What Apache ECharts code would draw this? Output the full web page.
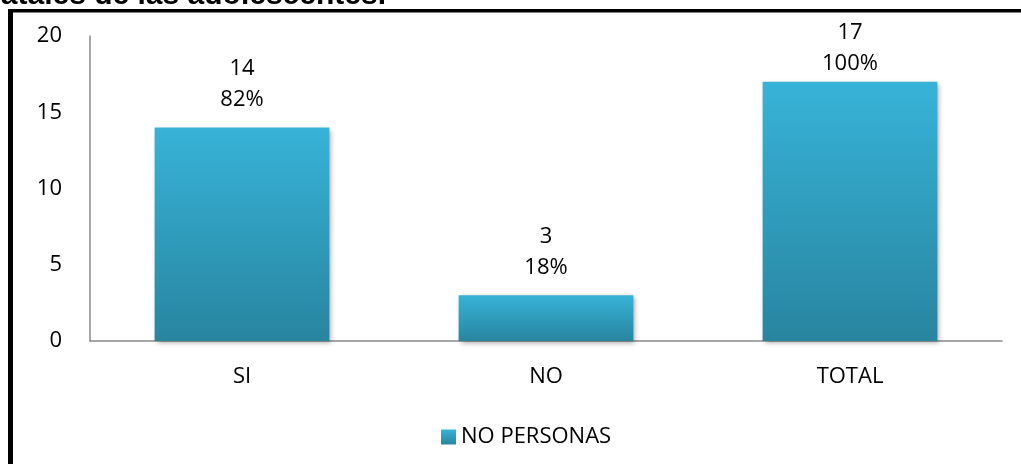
<!DOCTYPE html>
<html>
<head>
<meta charset="utf-8">
<script src="https://cdn.jsdelivr.net/npm/echarts@6/dist/echarts.min.js"></script>
<style>
  html, body { margin: 0; padding: 0; background: #ffffff; }
  #chart { width: 1021px; height: 464px; }
</style>
</head>
<body>
<div id="chart"></div>
<script>
// Answers to the survey question
const categories = ['SI', 'NO', 'TOTAL'];
const personas = [14, 3, 17];
const porcentajes = ['82%', '18%', '100%'];
const yTicks = [0, 5, 10, 15, 20];
const seriesName = 'NO PERSONAS';
const titleTail = 'natales de las adolescentes.';

const FONT = '"Open Sans", "Noto Sans", sans-serif';
const FS = 22;

const barGradient = new echarts.graphic.LinearGradient(0, 0, 0, 1, [
  { offset: 0, color: '#37b3d8' },
  { offset: 1, color: '#2885a0' }
]);

// the tallest bar keeps its label tucked closer so it stays inside the frame
const barData = personas.map((v, i) => (
  i === personas.length - 1 ? { value: v, label: { distance: 3 } } : v
));

const chart = echarts.init(document.getElementById('chart'), null, { renderer: 'canvas' });

chart.setOption({
  backgroundColor: '#ffffff',
  animation: false,
  grid: { left: 90, right: 19, top: 36, bottom: 123, containLabel: false },
  graphic: [
    // frame around the chart (left and top edges)
    { type: 'rect', left: 8, top: 9, shape: { width: 1013, height: 3.5 }, style: { fill: '#000' }, z: 10 },
    { type: 'rect', left: 8, top: 9, shape: { width: 5, height: 455 }, style: { fill: '#000' }, z: 10 },
    // heading text running above the frame
    {
      type: 'text', x: 386, y: 11, z: 10,
      style: {
        text: titleTail, align: 'right', verticalAlign: 'bottom',
        font: 'bold 30px "Liberation Sans", Arial, sans-serif', fill: '#000'
      }
    }
  ],
  legend: {
    data: [seriesName],
    left: 436, top: 421,
    itemWidth: 15, itemHeight: 15, itemGap: 7,
    icon: 'rect',
    textStyle: { fontFamily: FONT, fontSize: FS, color: '#000' }
  },
  xAxis: {
    type: 'category',
    data: categories,
    axisLine: { lineStyle: { color: '#8a8a8a', width: 1.5 } },
    axisTick: { show: false },
    axisLabel: { fontFamily: FONT, fontSize: FS, color: '#000', margin: 25 },
    splitLine: { show: false }
  },
  yAxis: {
    type: 'value',
    min: yTicks[0], max: yTicks[yTicks.length - 1], interval: yTicks[1] - yTicks[0],
    axisLine: { show: true, lineStyle: { color: '#8a8a8a', width: 1.5 } },
    axisTick: { show: false },
    splitLine: { show: false },
    axisLabel: { fontFamily: FONT, fontSize: FS, color: '#000', margin: 28 }
  },
  series: [{
    name: seriesName,
    type: 'bar',
    data: barData,
    barWidth: '57.5%',
    itemStyle: {
      color: barGradient,
      shadowColor: 'rgba(0,0,0,0.35)', shadowBlur: 5, shadowOffsetX: 2, shadowOffsetY: 2
    },
    label: {
      show: true, position: 'top', distance: 12,
      fontFamily: FONT, fontSize: FS, color: '#000', lineHeight: 31, align: 'center',
      formatter: p => p.value + '\n' + porcentajes[p.dataIndex]
    }
  }]
});
</script>
</body>
</html>
